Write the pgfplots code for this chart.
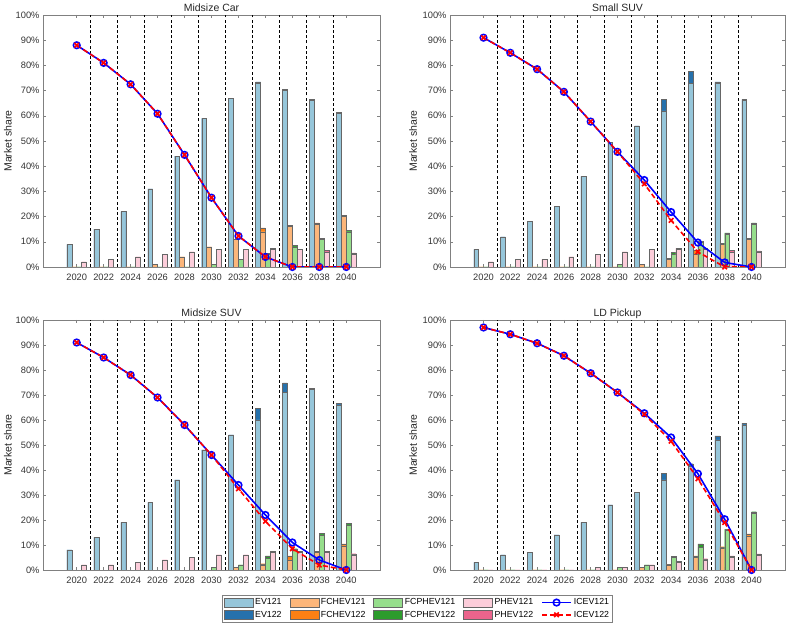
\documentclass[border=0pt]{standalone}
\usepackage{fontspec}
\setmainfont{Liberation Sans}
\usepackage{pgfplots}
\usepackage{pgfplotstable}
\pgfplotsset{compat=1.18}

\definecolor{evA}{RGB}{150,198,218}
\definecolor{evB}{RGB}{38,113,172}
\definecolor{fcA}{RGB}{252,182,122}
\definecolor{fcB}{RGB}{252,128,20}
\definecolor{fpA}{RGB}{150,222,140}
\definecolor{fpB}{RGB}{44,155,44}
\definecolor{phA}{RGB}{252,205,218}
\definecolor{phB}{RGB}{235,100,140}

% Midsize Car
\pgfplotstableread{
year EVa EVb FCa FCb FPa FPb PHa PHb ICa ICb
2020 9 9 0 0 0 0 2 2 88 88
2022 15 15 0 0 0 0 3 3 81 81
2024 22 22 0 0 0 0 4 4 72.5 72.5
2026 31 31 1 1 0 0 5 5 60.8 60.8
2028 44 44 4 4 0 0 6 6 44.5 44.5
2030 59 59 8 8 1 1 7 7 27.5 27.5
2032 67 67 11 11 3 3 7 7 12.3 12.3
2034 73 73.5 14 15.5 5 5.5 7 7.5 4 4
2036 70 70.5 16 16.5 8 8.5 7 7 0 0
2038 66 66.5 17 17.5 11 11.5 6 6.5 0 0
2040 61 61.5 20 20.5 14 14.5 5 5.6 0 0
}\mc

% Small SUV
\pgfplotstableread{
year EVa EVb FCa FCb FPa FPb PHa PHb ICa ICb
2020 7 7 0 0 0 0 2 2 91 91
2022 12 12 0 0 0 0 3 3 85 85
2024 18 18 0 0 0 0 3 3 78.5 78.5
2026 24 24 0 0 0 0 4 4 69.5 69.5
2028 36 36 0 0 0 0 5 5 57.7 57.7
2030 49.5 49.5 0 0 1 1 6 6 45.7 45.7
2032 56 56 1 1 0 0 7 7 34.5 33
2034 62 66.5 3 3.5 5 5.7 7 7.5 21.8 18.5
2036 73 77.5 5 6.5 10 10.3 7 7.5 9.7 6
2038 73 73.5 9 9.3 13 13.5 6 6.5 1.8 0
2040 66 66.5 11 11.3 17 17.5 6 6.4 0 0
}\ss

% Midsize SUV
\pgfplotstableread{
year EVa EVb FCa FCb FPa FPb PHa PHb ICa ICb
2020 8 8 0 0 0 0 2 2 91 91
2022 13 13 0 0 0 0 2 2 85 85
2024 19 19 0 0 0 0 3 3 78 78
2026 27 27 0 0 0 0 4 4 69 69
2028 36 36 0 0 0 0 5 5 58 58
2030 48 48 0 0 1 1 6 6 46 46
2032 54 54 1 1 2 2 6 6 34 32.5
2034 60 64.7 2 2.5 4.7 5.6 7 7.5 22 19.5
2036 71 74.8 4 5.6 8 8.5 7 7.5 11 8.5
2038 72.3 72.7 7 7.5 14 14.7 7 7.5 4 2
2040 66 66.7 9.7 10.4 18 18.7 6 6.5 0 0
}\ms

% LD Pickup
\pgfplotstableread{
year EVa EVb FCa FCb FPa FPb PHa PHb ICa ICb
2020 3 3 0 0 0 0 0 0 97 97
2022 6 6 0 0 0 0 0 0 94.3 94.3
2024 7 7 0 0 0 0 0 0 90.7 90.7
2026 14 14 0 0 0 0 0 0 85.7 85.7
2028 19 19 0 0 0 0 1 1 78.7 78.7
2030 26 26 0 0 1 1 1 1 71 71
2032 31 31 1 1 2 2 2 2 62.7 62.3
2034 36 38.7 2 2.3 5 5.5 3 3.5 53 51.5
2036 41.5 42.5 5 5.6 9 10.4 4 4.5 38.5 36.5
2038 52 53.6 8.8 9.3 16 16.3 5 5.6 20.3 19
2040 58 58.7 13.7 14.4 22.7 23.3 5.9 6.4 0 0
}\ld

\pgfplotsset{
 panel/.style={
   scale only axis,
   xmin=2017.5, xmax=2042.5, ymin=0, ymax=100,
   xtick={2020,2022,...,2040},
   xticklabels={2020,2022,2024,2026,2028,2030,2032,2034,2036,2038,2040},
   ytick={0,10,...,100},
   yticklabels={0\%,10\%,20\%,30\%,40\%,50\%,60\%,70\%,80\%,90\%,100\%},
   tick align=inside, major tick length=3bp,
   axis line style={black!50, line width=0.5bp},
   every tick/.style={black!50, line width=0.5bp},
   tick label style={font=\fontsize{9.3bp}{11bp}\selectfont, text=black!80},
   xticklabel style={yshift=-3.2bp},
   extra x ticks={2021,2023,...,2039},
   extra x tick labels={},
   extra x tick style={major tick length=0pt, grid=major,
      major grid style={black, line width=0.6bp, dash pattern=on 3bp off 2.2bp}},
   title style={anchor=base, yshift=-2.5bp,
      font=\fontsize{10.5bp}{12bp}\selectfont, text=black!85},
   ylabel={Market share},
   ylabel style={at={(axis description cs:-0.104,0.5)}, anchor=center,
      font=\fontsize{10.5bp}{12bp}\selectfont, text=black!85},
 },
 barbase/.style={ybar, bar width=0.364, draw=black!60, line width=0.4bp, forget plot},
 icevA/.style={color=blue, line width=1.6bp, mark=o, mark size=3.3bp, mark options={solid}},
 icevB/.style={color=red, line width=1.6bp, dash pattern=on 5bp off 3bp, mark=x, mark size=3.2bp, mark options={solid}},
 legbar/.style={legend image code/.code={\draw[##1] (0bp,-4.3bp) rectangle (29bp,4.3bp);}, draw=black!60, line width=0.4bp},
 legline/.style={legend image code/.code={\draw[mark repeat=2,mark phase=2,##1] plot coordinates {(0bp,0bp)(14.5bp,0bp)(29bp,0bp)};}},
}

\newcommand{\panelplots}[1]{%
 \addplot[barbase, fill=evB, bar shift=-0.545] table[x=year,y=EVb]{#1};
 \addplot[barbase, fill=evA, bar shift=-0.545] table[x=year,y=EVa]{#1};
 \addplot[barbase, fill=fcB, bar shift=-0.182] table[x=year,y=FCb]{#1};
 \addplot[barbase, fill=fcA, bar shift=-0.182] table[x=year,y=FCa]{#1};
 \addplot[barbase, fill=fpB, bar shift=0.182] table[x=year,y=FPb]{#1};
 \addplot[barbase, fill=fpA, bar shift=0.182] table[x=year,y=FPa]{#1};
 \addplot[barbase, fill=phB, bar shift=0.545] table[x=year,y=PHb]{#1};
 \addplot[barbase, fill=phA, bar shift=0.545] table[x=year,y=PHa]{#1};
 \addplot[icevA, forget plot] table[x=year,y=ICa]{#1};
 \addplot[icevB, forget plot] table[x=year,y=ICb]{#1};
}

\begin{document}
\begin{tikzpicture}
\path[use as bounding box] (0,0) rectangle (789bp,625bp);

\begin{axis}[panel, at={(43bp,358bp)}, anchor=south west, width=337bp, height=252bp, title={Midsize Car}]
\panelplots{\mc}
\end{axis}

\begin{axis}[panel, at={(450bp,358bp)}, anchor=south west, width=335bp, height=252bp, title={Small SUV},
  ylabel style={at={(axis description cs:-0.11,0.5)}}]
\panelplots{\ss}
\end{axis}

\begin{axis}[panel, at={(43bp,55bp)}, anchor=south west, width=337bp, height=250bp, title={Midsize SUV},
  legend columns=5,
  legend style={at={(axis description cs:0.5312,-0.1)}, anchor=north west,
    draw=black!50, line width=0.5bp, fill=white,
    font=\fontsize{8.8bp}{10bp}\selectfont, inner sep=1.5bp,
    /tikz/row sep=0.6bp,
    /tikz/every even column/.append style={column sep=6bp}},
  legend cell align=left]
\addlegendimage{legbar, fill=evA}\addlegendentry{EV121}
\addlegendimage{legbar, fill=fcA}\addlegendentry{FCHEV121}
\addlegendimage{legbar, fill=fpA}\addlegendentry{FCPHEV121}
\addlegendimage{legbar, fill=phA}\addlegendentry{PHEV121}
\addlegendimage{legline, icevA}\addlegendentry{ICEV121}
\addlegendimage{legbar, fill=evB}\addlegendentry{EV122}
\addlegendimage{legbar, fill=fcB}\addlegendentry{FCHEV122}
\addlegendimage{legbar, fill=fpB}\addlegendentry{FCPHEV122}
\addlegendimage{legbar, fill=phB}\addlegendentry{PHEV122}
\addlegendimage{legline, icevB}\addlegendentry{ICEV122}
\panelplots{\ms}
\end{axis}

\begin{axis}[panel, at={(450bp,55bp)}, anchor=south west, width=335bp, height=250bp, title={LD Pickup},
  ylabel style={at={(axis description cs:-0.11,0.5)}}]
\panelplots{\ld}
\end{axis}
\end{tikzpicture}
\end{document}
